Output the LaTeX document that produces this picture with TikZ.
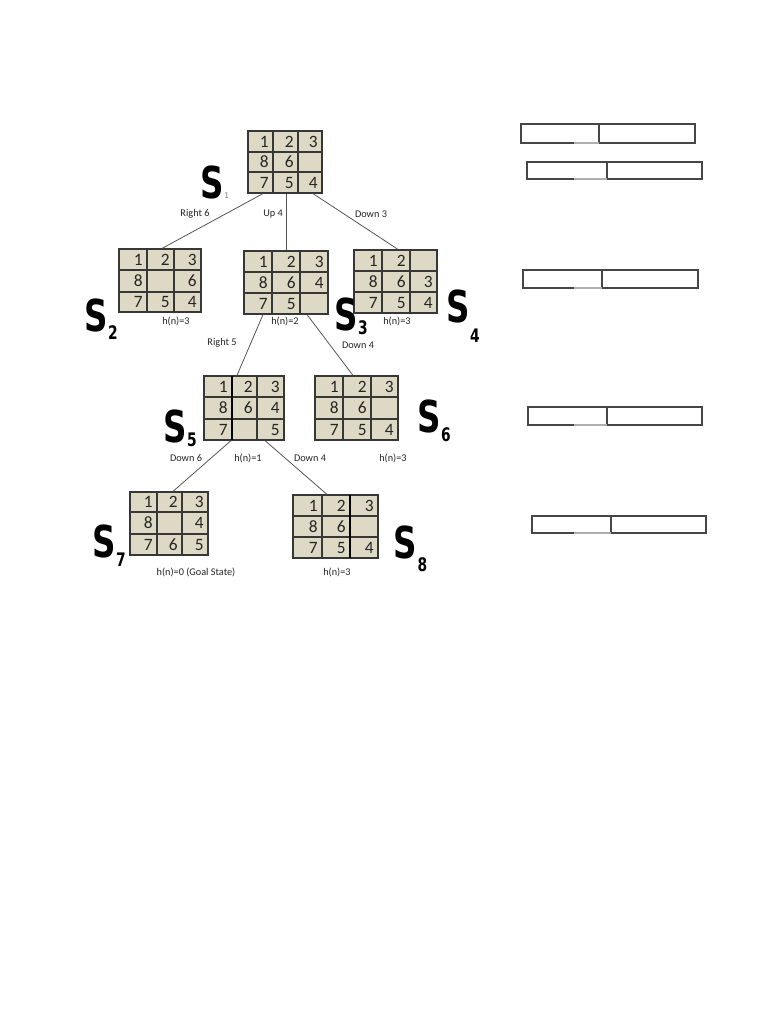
\documentclass[tikz,border=0pt]{standalone}
\usepackage{fontspec}
\setmainfont{Carlito}
\newfontfamily\handfont{DejaVu Sans Bold}
\usetikzlibrary{fit,calc}
\definecolor{tile}{RGB}{221,217,196}
\definecolor{gridcol}{RGB}{55,55,55}
\definecolor{edgecol}{RGB}{85,85,85}
\definecolor{boxcol}{RGB}{70,70,70}
\definecolor{faintcol}{RGB}{175,175,175}
\tikzset{
  puzbox/.style={draw=gridcol, fill=tile, line width=0.9pt, inner sep=0pt},
  gridline/.style={draw=gridcol, line width=0.8pt},
  thickgrid/.style={draw=black, line width=1.3pt},
  num/.style={font=\fontsize{13}{13}\selectfont, text=black!85, inner sep=0pt},
  lbl/.style={font=\fontsize{7.7}{9}\selectfont, inner sep=0pt, text=black!85},
  conn/.style={draw=edgecol, line width=0.6pt},
  hand/.style={font=\handfont\fontsize{33}{33}\selectfont, inner sep=0pt, xscale=0.74, anchor=base west},
  rbox/.style={draw=boxcol, line width=0.8pt},
}
\newcommand\subd[2]{\kern0.5pt\raisebox{-#1pt}{\fontsize{14}{14}\selectfont #2}}
% #1 name, #2..#5 column edges, #6..#9 row edges
\newcommand\puz[9]{%
  \node[puzbox, fit={(#2,#6) (#5,#9)}] (#1) {};
  \draw[gridline] (#3,#6) -- (#3,#9) (#4,#6) -- (#4,#9) (#2,#7) -- (#5,#7) (#2,#8) -- (#5,#8);
  \pgfmathsetmacro\pya{(#6+#7)/2}\pgfmathsetmacro\pyb{(#7+#8)/2}\pgfmathsetmacro\pyc{(#8+#9)/2}%
  \xdef\pxs{{#3,#4,#5}}\xdef\pys{{\pya,\pyb,\pyc}}%
}
\newcommand\nums[2]{%
  \foreach \v [count=\i from 0] in {#2}{%
    \pgfmathsetmacro\cx{\pxs[mod(\i,3)]-4}%
    \pgfmathsetmacro\cy{\pys[div(\i,3)]}%
    \node[num, anchor=east] (#1-\i) at (\cx,\cy) {\v};
  }}
\newcommand\rb[6]{% name, x0, xm, x1, y0, y1
  \draw[rbox] (#2,#5) rectangle (#4,#6) (#3,#5) -- (#3,#6);
  \draw[faintcol, line width=0.8pt] (574,#6) -- (#3,#6);
  \coordinate (#1) at (#2,#5);
}
\begin{document}
\begin{tikzpicture}[x=0.75pt, y=-0.75pt]
\useasboundingbox (0,0) rectangle (768,1024);
\fill[white] (0,0) rectangle (768,1024);

% puzzles
\puz{s1}{248}{273}{298}{322}{131}{152}{172}{193}
\nums{s1}{1,2,3,8,6,{},7,5,4}
\puz{s2}{119}{147}{174}{201}{249}{270}{292}{312}
\nums{s2}{1,2,3,8,{},6,7,5,4}
\puz{s3}{244}{272}{300}{328}{251}{272}{293}{314}
\nums{s3}{1,2,3,8,6,4,7,5,{}}
\puz{s4}{354}{382}{410}{437}{250}{271}{292}{313}
\nums{s4}{1,2,{},8,6,3,7,5,4}
\puz{s5}{204}{232}{257}{284}{376}{397}{419}{440}
\draw[thickgrid] (232,376) -- (232,440);
\nums{s5}{1,2,3,8,6,4,7,{},5}
\puz{s6}{315}{343}{371}{398}{376}{397}{419}{440}
\nums{s6}{1,2,3,8,6,{},7,5,4}
\puz{s7}{130}{157}{182}{208}{492}{512}{534}{555}
\nums{s7}{1,2,3,8,{},4,7,6,5}
\puz{s8}{293}{322}{350}{378}{495}{516}{537}{558}
\draw[thickgrid] (350,495) -- (350,558);
\nums{s8}{1,2,3,8,6,{},7,5,4}

% connectors
\draw[conn] ($(s1.south)+(-22,0)$) -- ($(s2.north)+(2,0)$);
\draw[conn] ($(s1.south)+(1,0)$) -- ($(s3.north)+(0,0)$);
\draw[conn] ($(s1.south)+(28,0)$) -- ($(s4.north)+(2.5,0)$);
\draw[conn] ($(s3.south)+(-23,0)$) -- ($(s5.north)+(-7,0)$);
\draw[conn] ($(s3.south)+(21,0)$) -- ($(s6.north)+(-3.5,0)$);
\draw[conn] ($(s5.south)+(-13,0)$) -- ($(s7.north)+(4,0)$);
\draw[conn] ($(s5.south)+(21,0)$) -- ($(s8.north)+(-8.5,0)$);

% labels
\node[lbl] (l1) at (195,214) {Right 6};
\node[lbl] (l2) at (273,214) {Up 4};
\node[lbl] (l3) at (371,214) {Down 3};
\node[lbl] (h2) at (176,321) {h(n)=3};
\node[lbl] (h3) at (285,321) {h(n)=2};
\node[lbl] (h4) at (397,321) {h(n)=3};
\node[lbl] (l4) at (222,343) {Right 5};
\node[lbl] (l5) at (358,345) {Down 4};
\node[lbl] (l6) at (186,458) {Down 6};
\node[lbl] (h5) at (248,458) {h(n)=1};
\node[lbl] (l7) at (310,458) {Down 4};
\node[lbl] (h6) at (393,458) {h(n)=3};
\node[lbl] (h7) at (196,572) {h(n)=0 (Goal State)};
\node[lbl] (h8) at (337,572) {h(n)=3};

% handwritten state names
\node[hand] (S1) at (200,198) {S\kern1pt\raisebox{0pt}{\fontsize{6}{6}\selectfont\color{black!35}1}};
\node[hand] (S2) at (84,331) {S\subd{6}{2}};
\node[hand] (S3) at (334,330) {S\subd{3.5}{3}};
\node[hand] (S4) at (446,322) {S\subd{15}{4}};
\node[hand] (S5) at (163,442) {S\subd{3}{5}};
\node[hand] (S6) at (417,432) {S\subd{7}{6}};
\node[hand] (S7) at (92,557) {S\subd{7}{7}};
\node[hand] (S8) at (393,558) {S\kern1pt\raisebox{-10pt}{\fontsize{14}{14}\selectfont 8}};

% empty boxes on the right
\rb{b1}{521}{599}{695}{124}{143}
\rb{b2}{527}{607}{702}{162}{179}
\rb{b3}{523}{602}{698}{270}{288}
\rb{b4}{528}{607}{702}{407}{425}
\rb{b5}{532}{611}{706}{516}{533}
\end{tikzpicture}
\end{document}
